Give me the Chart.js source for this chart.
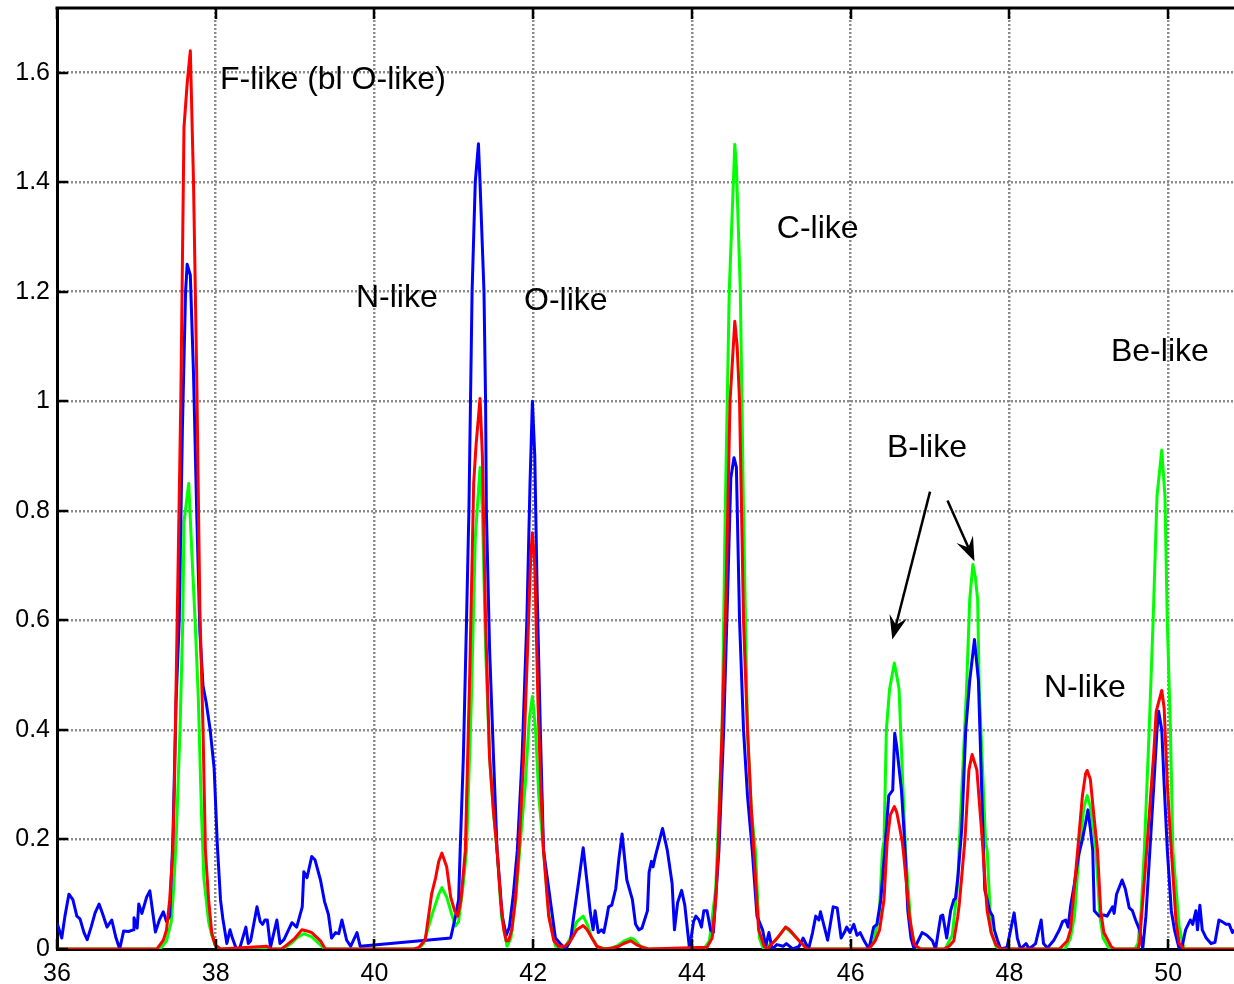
<!DOCTYPE html>
<html>
<head>
<meta charset="utf-8">
<script src="https://cdn.jsdelivr.net/npm/chart.js@4.4.1/dist/chart.umd.min.js"></script>
<style>
  html, body { margin: 0; padding: 0; background: #fff; }
  #wrap { width: 1234px; height: 984px; }
</style>
</head>
<body>
<div id="wrap"><canvas id="spectrum" width="1234" height="984"></canvas></div>
<script>
// axis ticks
const xTickValues = [36, 38, 40, 42, 44, 46, 48, 50];
const yTickValues = [0, 0.2, 0.4, 0.6, 0.8, 1, 1.2, 1.4, 1.6];

// blue series (noisy)
const blueX = [36.00, 36.06, 36.10, 36.15, 36.20, 36.25, 36.29, 36.34, 36.38, 36.43, 36.48, 36.53, 36.57, 36.63, 36.69, 36.74, 36.79, 36.84, 36.90, 36.96, 36.97, 37.01, 37.03, 37.07, 37.13, 37.17, 37.24, 37.29, 37.34, 37.38, 37.42, 37.46, 37.50, 37.54, 37.58, 37.62, 37.64, 37.68, 37.72, 37.76, 37.80, 37.84, 37.88, 37.93, 37.98, 38.02, 38.06, 38.09, 38.14, 38.18, 38.21, 38.26, 38.30, 38.38, 38.41, 38.44, 38.52, 38.56, 38.59, 38.62, 38.65, 38.69, 38.77, 38.81, 38.86, 38.96, 39.02, 39.09, 39.11, 39.15, 39.21, 39.25, 39.32, 39.37, 39.42, 39.46, 39.51, 39.55, 39.59, 39.65, 39.70, 39.78, 39.82,
  40.96, 41.02, 41.06, 41.08, 41.12, 41.16, 41.19, 41.21, 41.23, 41.27, 41.31, 41.33, 41.38, 41.40, 41.41, 41.45, 41.50, 41.545, 41.61, 41.66, 41.70, 41.75, 41.80, 41.86, 41.92, 41.96, 41.99, 42.02, 42.05, 42.09, 42.13, 42.22, 42.28, 42.34, 42.41, 42.47, 42.51, 42.57, 42.63, 42.68, 42.72, 42.755, 42.78, 42.82, 42.86, 42.89, 42.93, 42.95, 42.99, 43.04, 43.08, 43.12, 43.18, 43.25, 43.29, 43.33, 43.37, 43.44, 43.46, 43.49, 43.51, 43.54, 43.63, 43.69, 43.75, 43.78, 43.82, 43.87, 43.91, 43.97, 44.02, 44.05, 44.09, 44.12, 44.15, 44.19, 44.235, 44.27, 44.34, 44.40, 44.45, 44.49, 44.53, 44.56, 44.60, 44.65, 44.70, 44.76, 44.82, 44.89, 44.93, 44.97, 45.01, 45.07, 45.15, 45.19, 45.27, 45.35, 45.40, 45.47, 45.52, 45.56, 45.60,
  45.62, 45.71, 45.78, 45.83, 45.88, 45.92, 45.95, 45.99, 46.04, 46.08, 46.12, 46.17, 46.23, 46.29, 46.33, 46.38, 46.43, 46.48, 46.53, 46.555, 46.58, 46.64, 46.68, 46.72, 46.76, 46.80, 46.90, 46.96, 47.03, 47.07, 47.135, 47.16, 47.21, 47.26, 47.30, 47.32, 47.35, 47.40, 47.45, 47.50, 47.56, 47.61, 47.67, 47.69, 47.72, 47.75, 47.79, 47.81, 47.85, 47.89, 47.97, 48.06, 48.10, 48.14, 48.21, 48.25, 48.33, 48.40, 48.43, 48.48, 48.56, 48.63, 48.67, 48.71, 48.74, 48.77, 48.82, 48.87, 48.92, 48.96, 48.99, 49.02, 49.05, 49.07, 49.13, 49.19, 49.23, 49.30, 49.32, 49.35, 49.42, 49.46, 49.51, 49.55, 49.59, 49.64, 49.68, 49.72, 49.77, 49.82, 49.86, 49.88, 49.92, 49.95, 49.99, 50.04, 50.08, 50.14, 50.17, 50.22, 50.28, 50.31, 50.35, 50.37, 50.40, 50.43, 50.48, 50.54, 50.59, 50.64, 50.68, 50.73, 50.77, 50.81, 50.83];
const blueY = [0.048, 0.02, 0.06, 0.10, 0.09, 0.06, 0.055, 0.03, 0.017, 0.04, 0.066, 0.082, 0.066, 0.04, 0.053, 0.022, 0.0, 0.033, 0.032, 0.035, 0.057, 0.038, 0.082, 0.065, 0.095, 0.106, 0.031, 0.053, 0.068, 0.05, 0.06, 0.20, 0.45, 0.60, 0.95, 1.20, 1.25, 1.23, 1.05, 0.80, 0.58, 0.48, 0.45, 0.40, 0.33, 0.19, 0.09, 0.055, 0.01, 0.035, 0.02, 0.0, 0.0, 0.04, 0.01, 0.015, 0.077, 0.05, 0.045, 0.053, 0.053, 0.003, 0.053, 0.01, 0.017, 0.048, 0.04, 0.077, 0.141, 0.13, 0.169, 0.163, 0.126, 0.087, 0.063, 0.02, 0.03, 0.028, 0.053, 0.016, 0.005, 0.03, 0.005,
  0.02, 0.059, 0.09, 0.18, 0.35, 0.6, 0.8, 1.0, 1.2, 1.40, 1.47, 1.40, 1.2, 1.0, 0.8, 0.55, 0.35, 0.18, 0.06, 0.025, 0.04, 0.10, 0.18, 0.35, 0.6, 0.85, 1.0, 0.9, 0.65, 0.4, 0.18, 0.084, 0.02, 0.01, 0.0, 0.015, 0.059, 0.12, 0.185, 0.12, 0.066, 0.035, 0.07, 0.03, 0.035, 0.03, 0.06, 0.077, 0.08, 0.11, 0.165, 0.21, 0.126, 0.09, 0.045, 0.035, 0.038, 0.07, 0.14, 0.16, 0.15, 0.17, 0.22, 0.18, 0.12, 0.035, 0.085, 0.107, 0.08, 0.0, 0.05, 0.06, 0.053, 0.04, 0.07, 0.07, 0.035, 0.03, 0.18, 0.40, 0.65, 0.86, 0.897, 0.88, 0.6, 0.4, 0.28, 0.18, 0.06, 0.035, 0.005, 0.03, 0.0, 0.008, 0.005, 0.01, 0.0, 0.005, 0.02, 0.0, 0.03, 0.06, 0.053,
  0.068, 0.016, 0.077, 0.075, 0.02, 0.03, 0.04, 0.03, 0.045, 0.025, 0.03, 0.015, 0.0, 0.04, 0.045, 0.09, 0.18, 0.28, 0.29, 0.394, 0.37, 0.29, 0.196, 0.07, 0.02, 0.0, 0.03, 0.025, 0.015, 0.0, 0.06, 0.062, 0.02, 0.07, 0.09, 0.092, 0.13, 0.22, 0.40, 0.49, 0.565, 0.49, 0.2, 0.108, 0.09, 0.07, 0.06, 0.035, 0.016, 0.0, 0.003, 0.066, 0.02, 0.0, 0.01, 0.0, 0.01, 0.053, 0.01, 0.002, 0.016, 0.035, 0.05, 0.053, 0.04, 0.077, 0.12, 0.17, 0.20, 0.23, 0.254, 0.22, 0.18, 0.07, 0.06, 0.062, 0.06, 0.077, 0.065, 0.10, 0.126, 0.11, 0.075, 0.07, 0.053, 0.035, 0.0, 0.06, 0.18, 0.30, 0.40, 0.434, 0.40, 0.3, 0.18, 0.07, 0.035, 0.0, 0.0, 0.035, 0.053, 0.045, 0.07, 0.035, 0.08, 0.035, 0.02, 0.01, 0.012, 0.053, 0.05, 0.045, 0.045, 0.03, 0.035];

// green series
const greenX = [36.00, 37.30, 37.38, 37.44, 37.47, 37.50, 37.55, 37.585, 37.60, 37.66, 37.70, 37.74, 37.78, 37.82, 37.85, 37.91, 37.95, 38.00, 38.04, 38.85, 38.95, 39.02, 39.11, 39.21, 39.30, 39.37, 40.55, 40.62, 40.72, 40.81, 40.85, 40.91, 40.98, 41.02, 41.06, 41.12, 41.16, 41.22, 41.27, 41.33, 41.36, 41.40, 41.45, 41.50, 41.545, 41.60, 41.67, 41.72, 41.78, 41.83, 41.90, 41.95, 41.99, 42.03, 42.07, 42.13, 42.20, 42.28, 42.40, 42.47, 42.55, 42.63, 42.68, 42.74, 42.82, 42.95, 43.05, 43.15, 43.23, 43.27, 43.35, 43.45, 44.15, 44.22, 44.30, 44.32, 44.38, 44.42, 44.47, 44.54, 44.56, 44.61, 44.65, 44.70, 44.75, 44.80, 44.85, 44.90, 45.05, 45.18, 45.25, 45.35, 45.47, 46.22, 46.29, 46.36, 46.40, 46.42, 46.45, 46.49, 46.55, 46.58, 46.61, 46.63, 46.69, 46.76, 46.82, 47.19, 47.28, 47.35, 47.37, 47.46, 47.50, 47.54, 47.57, 47.60, 47.62, 47.70, 47.72, 47.77, 47.83, 47.88, 48.70, 48.77, 48.82, 48.88, 48.94, 48.98, 49.02, 49.06, 49.09, 49.14, 49.18, 49.26, 49.58, 49.62, 49.66, 49.70, 49.76, 49.81, 49.86, 49.92, 49.96, 49.99, 50.03, 50.06, 50.14, 50.20, 50.83];
const greenY = [0, 0, 0.015, 0.05, 0.11, 0.196, 0.40, 0.60, 0.78, 0.85, 0.72, 0.60, 0.46, 0.25, 0.13, 0.05, 0.025, 0.005, 0, 0, 0.01, 0.02, 0.028, 0.022, 0.01, 0, 0, 0.01, 0.06, 0.10, 0.112, 0.095, 0.06, 0.042, 0.05, 0.12, 0.18, 0.45, 0.75, 0.879, 0.80, 0.55, 0.35, 0.25, 0.18, 0.06, 0.005, 0.02, 0.09, 0.18, 0.30, 0.42, 0.461, 0.40, 0.28, 0.18, 0.06, 0.005, 0.003, 0.02, 0.05, 0.06, 0.045, 0.02, 0.003, 0, 0.005, 0.015, 0.02, 0.018, 0.005, 0, 0, 0.015, 0.11, 0.18, 0.40, 0.80, 1.20, 1.469, 1.43, 1.20, 0.80, 0.40, 0.25, 0.18, 0.02, 0, 0.015, 0.04, 0.03, 0.015, 0, 0, 0.015, 0.06, 0.18, 0.196, 0.40, 0.474, 0.522, 0.50, 0.474, 0.40, 0.18, 0.04, 0, 0, 0.025, 0.12, 0.196, 0.474, 0.638, 0.702, 0.68, 0.638, 0.474, 0.196, 0.18, 0.03, 0.005, 0, 0, 0.02, 0.06, 0.18, 0.26, 0.28, 0.26, 0.22, 0.18, 0.06, 0.02, 0, 0, 0.01, 0.07, 0.18, 0.395, 0.596, 0.827, 0.911, 0.827, 0.596, 0.395, 0.18, 0.04, 0, 0];

// red series
const redX = [36.00, 37.26, 37.34, 37.38, 37.42, 37.46, 37.48, 37.52, 37.56, 37.60, 37.64, 37.68, 37.72, 37.76, 37.80, 37.84, 37.87, 37.91, 37.95, 37.99, 38.06, 38.43, 38.645, 38.70, 38.83, 38.90, 39.00, 39.085, 39.15, 39.21, 39.32, 39.38, 40.50, 40.56, 40.64, 40.72, 40.77, 40.81, 40.85, 40.91, 40.96, 41.01, 41.05, 41.09, 41.145, 41.20, 41.25, 41.28, 41.33, 41.36, 41.40, 41.45, 41.50, 41.545, 41.59, 41.63, 41.66, 41.69, 41.73, 41.775, 41.82, 41.88, 41.93, 41.97, 41.99, 42.02, 42.06, 42.10, 42.13, 42.195, 42.26, 42.32, 42.40, 42.47, 42.55, 42.63, 42.68, 42.74, 42.80, 42.89, 43.00, 43.08, 43.14, 43.23, 43.30, 43.38, 43.45, 44.19, 44.255, 44.30, 44.33, 44.38, 44.43, 44.48, 44.54, 44.57, 44.60, 44.65, 44.70, 44.75, 44.78, 44.84, 44.91, 44.95, 45.075, 45.18, 45.23, 45.35, 45.45, 46.23, 46.31, 46.365, 46.42, 46.46, 46.50, 46.55, 46.58, 46.62, 46.65, 46.67, 46.74, 46.80, 46.88, 47.18, 47.24, 47.30, 47.35, 47.37, 47.41, 47.44, 47.49, 47.53, 47.59, 47.66, 47.70, 47.72, 47.77, 47.83, 47.89, 48.63, 48.73, 48.77, 48.86, 48.92, 48.96, 48.98, 49.02, 49.06, 49.11, 49.15, 49.19, 49.28, 49.32, 49.62, 49.64, 49.66, 49.73, 49.78, 49.82, 49.85, 49.92, 49.95, 49.99, 50.04, 50.10, 50.14, 50.20, 50.83];
const redY = [0, 0, 0.016, 0.035, 0.09, 0.18, 0.30, 0.65, 1.00, 1.50, 1.58, 1.64, 1.40, 1.05, 0.62, 0.40, 0.18, 0.09, 0.03, 0.008, 0, 0.003, 0.005, 0, 0, 0.008, 0.02, 0.035, 0.033, 0.03, 0.015, 0, 0, 0.003, 0.017, 0.10, 0.13, 0.16, 0.175, 0.15, 0.095, 0.07, 0.06, 0.09, 0.18, 0.5, 0.85, 0.92, 1.005, 0.9, 0.6, 0.35, 0.25, 0.18, 0.09, 0.035, 0.015, 0.015, 0.035, 0.09, 0.18, 0.35, 0.55, 0.72, 0.76, 0.70, 0.45, 0.28, 0.18, 0.06, 0.015, 0.005, 0.005, 0.015, 0.035, 0.043, 0.035, 0.02, 0.005, 0, 0.002, 0.005, 0.01, 0.015, 0.008, 0.003, 0, 0.003, 0.02, 0.09, 0.18, 0.40, 0.65, 1.0, 1.146, 1.10, 1.0, 0.6, 0.40, 0.25, 0.18, 0.035, 0.005, 0, 0.02, 0.04, 0.035, 0.015, 0, 0, 0.015, 0.035, 0.09, 0.196, 0.245, 0.26, 0.25, 0.22, 0.196, 0.17, 0.06, 0.008, 0, 0, 0.005, 0.015, 0.06, 0.084, 0.15, 0.2, 0.327, 0.355, 0.327, 0.196, 0.108, 0.07, 0.03, 0.008, 0, 0, 0.015, 0.035, 0.18, 0.28, 0.32, 0.326, 0.31, 0.25, 0.18, 0.07, 0.03, 0.005, 0, 0, 0.01, 0.05, 0.18, 0.28, 0.36, 0.434, 0.472, 0.44, 0.30, 0.18, 0.05, 0.01, 0, 0];

// text labels and arrows placed in data coordinates
const labelTexts = ["F-like (bl O-like)", "N-like", "O-like", "C-like", "Be-like", "B-like", "N-like"];
const labelX = [38.054, 39.767, 41.884, 45.07, 49.28, 46.457, 48.435];
const labelY = [1.587, 1.189, 1.183, 1.315, 1.09, 0.915, 0.477];
const arrowFrom = [[47.0, 0.835], [47.22, 0.819]];
const arrowTo = [[46.525, 0.565], [47.56, 0.708]];

const FONT = "'Liberation Sans', Arial, Helvetica, sans-serif";

function toPoints(xs, ys) {
  return xs.map((x, i) => ({ x: x, y: ys[i] }));
}

const frameAndLabels = {
  id: "frameAndLabels",
  afterDraw(chart) {
    const { ctx, chartArea, scales } = chart;
    const xs = scales.x, ys = scales.y;
    ctx.save();

    // frame: top line (bottom/left come from scale borders)
    ctx.strokeStyle = "#000";
    ctx.lineWidth = 3;
    ctx.beginPath();
    ctx.moveTo(chartArea.left - 1.5, chartArea.top);
    ctx.lineTo(chartArea.right, chartArea.top);
    ctx.stroke();

    // inward tick marks
    ctx.lineWidth = 2.5;
    ctx.beginPath();
    xTickValues.forEach((v) => {
      const px = Math.round(xs.getPixelForValue(v));
      ctx.moveTo(px, chartArea.bottom);
      ctx.lineTo(px, chartArea.bottom - 10);
      ctx.moveTo(px, chartArea.top);
      ctx.lineTo(px, chartArea.top + 11);
    });
    yTickValues.forEach((v) => {
      const py = Math.round(ys.getPixelForValue(v));
      ctx.moveTo(chartArea.left, py);
      ctx.lineTo(chartArea.left + 11, py);
    });
    ctx.stroke();

    // text annotations
    ctx.fillStyle = "#000";
    ctx.font = "32px " + FONT;
    ctx.textAlign = "left";
    ctx.textBaseline = "middle";
    labelTexts.forEach((t, i) => {
      ctx.fillText(t, xs.getPixelForValue(labelX[i]), ys.getPixelForValue(labelY[i]));
    });

    // arrows
    arrowFrom.forEach((from, i) => {
      const x0 = xs.getPixelForValue(from[0]), y0 = ys.getPixelForValue(from[1]);
      const x1 = xs.getPixelForValue(arrowTo[i][0]), y1 = ys.getPixelForValue(arrowTo[i][1]);
      const ang = Math.atan2(y1 - y0, x1 - x0);
      const len = 24, half = 9, notch = 15;
      const bx = x1 - Math.cos(ang) * notch, by = y1 - Math.sin(ang) * notch;
      ctx.strokeStyle = "#000";
      ctx.lineWidth = 2.5;
      ctx.beginPath();
      ctx.moveTo(x0, y0);
      ctx.lineTo(bx, by);
      ctx.stroke();
      const cx = x1 - Math.cos(ang) * len, cy = y1 - Math.sin(ang) * len;
      const nx = -Math.sin(ang), ny = Math.cos(ang);
      ctx.beginPath();
      ctx.moveTo(x1, y1);
      ctx.lineTo(cx + nx * half, cy + ny * half);
      ctx.lineTo(bx, by);
      ctx.lineTo(cx - nx * half, cy - ny * half);
      ctx.closePath();
      ctx.fill();
    });

    ctx.restore();
  }
};

const ctx = document.getElementById("spectrum").getContext("2d");
new Chart(ctx, {
  type: "line",
  data: {
    datasets: [
      { label: "green", data: toPoints(greenX, greenY), borderColor: "#00ff00", order: 3 },
      { label: "blue", data: toPoints(blueX, blueY), borderColor: "#0000ff", order: 2 },
      { label: "red", data: toPoints(redX, redY), borderColor: "#ff0000", order: 1 },
    ],
  },
  options: {
    responsive: false,
    animation: false,
    elements: {
      line: { borderWidth: 3, tension: 0, fill: false, borderJoinStyle: "round" },
      point: { radius: 0, hoverRadius: 0 },
    },
    layout: { padding: { top: 8, right: 0, left: 0, bottom: 0 } },
    plugins: {
      legend: { display: false },
      tooltip: { enabled: false },
    },
    scales: {
      x: {
        type: "linear",
        min: 36,
        max: 50.83,
        afterBuildTicks: (scale) => { scale.ticks = xTickValues.map((v) => ({ value: v })); },
        afterFit: (scale) => {
          scale.height = 35;
          scale.paddingLeft = 0;
          scale.paddingRight = 0;
        },
        ticks: {
          autoSkip: false,
          maxRotation: 0,
          padding: 10,
          color: "#000",
          font: { family: FONT, size: 25 },
          callback: (v) => String(v),
        },
        grid: { color: "#8c8c8c", lineWidth: 2.5, drawTicks: false },
        border: { display: true, color: "#000", width: 3, dash: [2, 2] },
      },
      y: {
        type: "linear",
        min: 0,
        max: 1.718,
        afterBuildTicks: (scale) => { scale.ticks = yTickValues.map((v) => ({ value: v })); },
        afterFit: (scale) => {
          scale.width = 57;
          scale.paddingTop = 0;
          scale.paddingBottom = 0;
        },
        ticks: {
          autoSkip: false,
          padding: 7,
          color: "#000",
          font: { family: FONT, size: 25 },
          callback: (v) => String(Math.round(v * 10) / 10),
        },
        grid: { color: "#8c8c8c", lineWidth: 2.5, drawTicks: false },
        border: { display: true, color: "#000", width: 3, dash: [2, 2] },
      },
    },
  },
  plugins: [frameAndLabels],
});
</script>
</body>
</html>
